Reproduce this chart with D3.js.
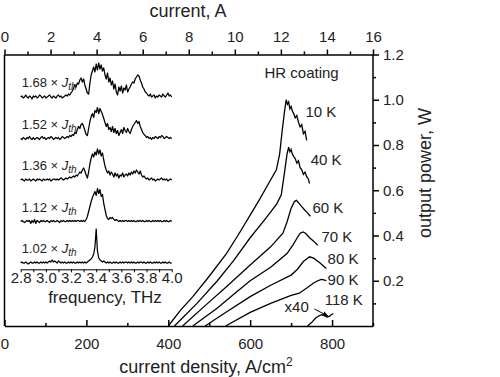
<!DOCTYPE html>
<html>
<head>
<meta charset="utf-8">
<script src="https://cdn.jsdelivr.net/npm/d3@7"></script>
<style>
  body { margin: 0; background: #fff; }
  svg { font-family: "Liberation Sans", Arial, sans-serif; }
  .axis path, .axis line { stroke: #000; stroke-width: 1.5px; }
  .axis text { font-size: 15px; fill: #222; font-family: "Liberation Sans", Arial, sans-serif; }
  .inset path, .inset line { stroke-width: 1px; }
  .lj { fill: none; stroke: #000; stroke-width: 1.3px; }
  .spec { fill: none; stroke: #000; stroke-width: 1.25px; stroke-linejoin: round; }
  .lbl { font-size: 15px; fill: #222; }
</style>
</head>
<body>
<svg id="chart" width="500" height="377"></svg>
<script>
// light-current curves: current density (A/cm2) -> output power (W)
const J10 = [400, 430, 460, 500, 542, 570, 600, 623, 645, 664, 672, 678, 684, 688, 691, 694, 697, 700, 703, 706, 710, 714, 718, 722, 726, 730, 734, 738];
const P10 = [0, 0.07, 0.13, 0.22, 0.32, 0.40, 0.49, 0.56, 0.63, 0.69, 0.76, 0.86, 0.95, 1.00, 0.98, 0.99, 0.96, 0.97, 0.95, 0.94, 0.92, 0.93, 0.90, 0.88, 0.89, 0.85, 0.86, 0.82];
const J40 = [415, 470, 520, 560, 600, 640, 665, 676, 684, 690, 694, 697, 700, 703, 706, 710, 714, 718, 722, 726, 730, 734, 738, 742, 745];
const P40 = [0, 0.10, 0.20, 0.29, 0.39, 0.48, 0.54, 0.58, 0.68, 0.76, 0.79, 0.77, 0.78, 0.76, 0.75, 0.74, 0.72, 0.73, 0.70, 0.69, 0.67, 0.68, 0.66, 0.65, 0.63];
const J60 = [435, 490, 540, 600, 650, 680, 690, 700, 708, 713, 718, 725, 732, 740, 747];
const P60 = [0, 0.09, 0.17, 0.27, 0.35, 0.41, 0.46, 0.52, 0.55, 0.555, 0.545, 0.53, 0.515, 0.50, 0.485];
const J70 = [460, 520, 560, 600, 650, 690, 705, 715, 722, 729, 735, 745, 755, 765];
const P70 = [0, 0.08, 0.14, 0.20, 0.26, 0.32, 0.36, 0.39, 0.41, 0.416, 0.41, 0.39, 0.375, 0.357];
const J80 = [490, 540, 600, 650, 700, 715, 730, 745, 755, 770, 786];
const P80 = [0, 0.06, 0.13, 0.18, 0.225, 0.25, 0.285, 0.306, 0.30, 0.28, 0.254];
const J90 = [540, 600, 650, 700, 720, 740, 755, 765, 774, 780, 786];
const P90 = [0, 0.06, 0.10, 0.135, 0.145, 0.17, 0.19, 0.20, 0.206, 0.204, 0.20];
const J118 = [740, 750, 760, 768, 775, 782, 788, 793, 798, 803];
const P118 = [0, 0.015, 0.035, 0.045, 0.05, 0.045, 0.04, 0.042, 0.05, 0.055]; // x40

const curves = [[J10, P10], [J40, P40], [J60, P60], [J70, P70], [J80, P80], [J90, P90], [J118, P118]];
const tempNames = ["10 K", "40 K", "60 K", "70 K", "80 K", "90 K", "118 K"];

// inset spectra, 2.80 .. 4.00 THz in 0.01 steps, arbitrary units
const specStart = 2.8, specStep = 0.01;
const spec168 = [0, 1, -1, 0, 2, 0, -1, 1, 0, -2,
  1, 0, 1, -1, 0, 2, 1, -1, 0, 1,
  -1, 0, 1, 2, 0, -1, 1, 0, -1, 1,
  2, 0, 1, -1, 0, 1, 2, 1, 3, 2,
  4, 6, 9, 12, 10, 14, 13, 17, 19, 15,
  18, 12, 8, 4, 3, 14, 22, 26, 30, 25,
  33, 27, 34, 28, 32, 26, 29, 22, 18, 24,
  15, 19, 12, 16, 8, 13, 5, 2, 10, 6,
  11, 4, 9, 7, 12, 5, 8, 10, 13, 15,
  14, 18, 20, 22, 21, 17, 14, 10, 8, 5,
  4, 2, 1, 3, 0, 1, 2, -1, 1, 0,
  2, 1, 0, 3, 1, 0, 2, 4, 1, 2, 0];
const spec152 = [0, -1, 1, 0, -1, 1, 0, 2, 0, -1,
  1, -1, 0, 1, 0, -1, 1, 2, 0, 1,
  -1, 0, 1, 0, 2, 1, -1, 0, 1, 0,
  1, -1, 0, 2, 1, 0, 1, 2, 1, 3,
  2, 4, 3, 6, 5, 9, 12, 10, 14, 15,
  12, 8, 4, 3, 10, 17, 22, 25, 21, 28,
  26, 31, 25, 30, 27, 24, 20, 16, 12, 15,
  9, 11, 7, 12, 6, 10, 5, 8, 3, 6,
  9, 5, 11, 8, 6, 10, 7, 5, 9, 12,
  14, 16, 18, 15, 17, 12, 9, 6, 4, 3,
  1, 2, 0, 1, -1, 1, 0, 2, 1, 0,
  2, 1, 3, 2, 0, 1, 2, 1, 0, 1, 0];
const spec136 = [0, 1, 0, -1, 1, 0, 0, 1, -1, 0,
  1, 0, -1, 1, 0, 1, 0, -1, 1, 0,
  0, 1, 0, 1, -1, 0, 1, 1, 0, 1,
  0, 1, 2, 1, 0, 1, 2, 1, 2, 3,
  2, 3, 4, 3, 5, 4, 6, 8, 7, 10,
  12, 9, 5, 2, 8, 16, 22, 26, 23, 28,
  25, 31, 26, 30, 24, 27, 20, 14, 10, 7,
  9, 5, 8, 6, 3, 7, 4, 6, 2, 5,
  4, 7, 3, 5, 6, 4, 7, 5, 8, 6,
  9, 7, 10, 8, 6, 9, 5, 3, 4, 2,
  1, 2, 0, 1, 2, 0, 1, -1, 0, 1,
  0, 1, 2, 0, 1, 0, 1, -1, 0, 1, 0];
const spec112 = [0, 1, 0, -1, 0, 1, 0, 1, -2, 1,
  -1, 2, -2, 1, 0, -1, 1, 0, 1, 0,
  0, 1, 0, -1, 1, 0, 1, 0, 0, 1,
  0, -1, 1, 0, 1, 0, 0, 1, 0, 1,
  0, 1, 0, 1, 0, 1, 1, 0, 1, 0,
  1, 0, 2, 5, 10, 15, 20, 24, 27, 30,
  26, 33, 28, 32, 25, 27, 18, 12, 6, 3,
  2, 4, 3, 4, 2, 1, 2, 1, 0, 1,
  0, 1, 0, 1, 1, 0, 1, 0, 1, 0,
  1, 0, 0, 1, 0, 1, 0, 1, 0, 0,
  1, 0, 1, 0, 0, 1, 0, 1, 0, 1,
  0, 1, 0, 0, 1, 0, 1, 0, 0, 1, 0];
const spec102 = [0, 1, 0, 0, 1, 0, -1, 0, 1, 0,
  0, 1, 0, 1, 0, 0, 1, 0, 1, 0,
  1, 0, 1, 2, 1, 3, 1, 2, 1, 0,
  2, 1, 0, 1, 0, 1, 0, 0, 1, 0,
  1, 0, 1, 0, 0, 1, 0, 1, 0, 1,
  0, 1, 0, 1, 2, 3, 4, 6, 9, 16,
  34, 12, 5, 3, 2, 1, 2, 1, 0, 1,
  0, 1, 0, 0, 1, 0, 1, 0, 0, 1,
  0, 1, 0, 1, 1, 0, 1, 0, 1, 0,
  1, 0, 0, 1, 0, 1, 1, 0, 1, 0,
  0, 1, 0, 1, 0, 0, 1, 0, 1, 0,
  1, 0, 0, 1, 0, 1, 0, 0, 1, 0, 0];

const spectra = [spec102, spec112, spec136, spec152, spec168];
const specFactors = ["1.02", "1.12", "1.36", "1.52", "1.68"];
const specOffsets = [0, 41.5, 83, 124.5, 166];

// ---- layout ----
const L = 4.5, R = 373, T = 54.5, B = 326;
const svg = d3.select("#chart");

const x = d3.scaleLinear().domain([0, 900]).range([L, R]);
const xTop = d3.scaleLinear().domain([0, 16]).range([L, R]);
const y = d3.scaleLinear().domain([0, 1.2]).range([B, T]);

// inset scales
const fx = d3.scaleLinear().domain([2.8, 4.0]).range([20.7, 171.7]);
const sy = d3.scaleLinear().domain([0, 166]).range([263, 97]);

// left frame line
svg.append("line").attr("x1", L).attr("x2", L).attr("y1", T).attr("y2", B)
  .attr("stroke", "#000").attr("stroke-width", 1.5);

// bottom axis, ticks inward
const gb = svg.append("g").attr("class", "axis").attr("transform", `translate(0,${B})`)
  .call(d3.axisBottom(x).tickValues(d3.range(0, 901, 100))
    .tickFormat(d => d % 200 ? "" : d).tickSize(-6).tickSizeOuter(0).tickPadding(12));
gb.selectAll(".tick line").attr("y2", d => d % 200 ? -3 : -6);

// top axis
const gt = svg.append("g").attr("class", "axis").attr("transform", `translate(0,${T})`)
  .call(d3.axisTop(xTop).tickValues(d3.range(0, 17))
    .tickFormat(d => d % 2 ? "" : d).tickSize(5).tickSizeOuter(0).tickPadding(8));
gt.selectAll(".tick line").attr("y2", d => d % 2 ? -3 : -5);

// right axis
const rTicks = d3.range(1, 13).map(i => i / 10);
const gr = svg.append("g").attr("class", "axis").attr("transform", `translate(${R},0)`)
  .call(d3.axisRight(y).tickValues(rTicks)
    .tickFormat(d => Math.round(d * 10) % 2 ? "" : d.toFixed(1)).tickSize(6).tickSizeOuter(0).tickPadding(4));
gr.selectAll(".tick line").attr("x2", d => Math.round(d * 10) % 2 ? 3 : 6);
gr.select(".domain").attr("d", `M0,${B}V${T}`);

// axis titles
svg.append("text").attr("x", 188).attr("y", 17).attr("text-anchor", "middle")
  .attr("font-size", 18).attr("fill", "#222").text("current, A");
const bt = svg.append("text").attr("x", 206).attr("y", 373).attr("text-anchor", "middle")
  .attr("font-size", 18).attr("fill", "#222");
bt.append("tspan").text("current density, A/cm");
bt.append("tspan").attr("font-size", 12).attr("dy", -7).text("2");
svg.append("text").attr("transform", "translate(431,173) rotate(-90)").attr("text-anchor", "middle")
  .attr("font-size", 18).attr("fill", "#222").text("output power, W");

// L-J curves
const lj = d3.line().x(d => x(d[0])).y(d => y(d[1]));
svg.append("g").selectAll("path").data(curves).join("path")
  .attr("class", "lj")
  .attr("d", c => lj(c[0].map((j, i) => [j, c[1][i]])));

// temperature labels
const tempPos = [[735, 0.922], [748, 0.71], [752, 0.498], [774, 0.37], [789, 0.273], [789, 0.18], [782, 0.093]];
svg.append("g").selectAll("text").data(tempNames).join("text")
  .attr("class", "lbl")
  .attr("x", (d, i) => x(tempPos[i][0])).attr("y", (d, i) => y(tempPos[i][1]))
  .text(d => d);

svg.append("text").attr("class", "lbl").attr("font-size", 16)
  .attr("x", x(635)).attr("y", y(1.094)).text("HR coating");
svg.append("text").attr("class", "lbl").attr("x", x(684)).attr("y", y(0.064)).text("x40");

// x40 arrow
svg.append("defs").append("marker").attr("id", "ah")
  .attr("viewBox", "0 0 10 10").attr("refX", 9).attr("refY", 5)
  .attr("markerWidth", 6).attr("markerHeight", 6).attr("orient", "auto")
  .append("path").attr("d", "M0,1L10,5L0,9Z").attr("fill", "#000");
svg.append("line").attr("x1", x(757)).attr("y1", y(0.075)).attr("x2", x(790)).attr("y2", y(0.044))
  .attr("stroke", "#000").attr("stroke-width", 1).attr("marker-end", "url(#ah)");

// ---- inset ----
const gi = svg.append("g").attr("class", "axis inset").attr("transform", "translate(0,269.3)")
  .call(d3.axisBottom(fx).tickValues(d3.range(0, 13).map(i => 2.8 + i / 10))
    .tickFormat((d, i) => i % 2 ? "" : d.toFixed(1)).tickSize(3).tickSizeOuter(0).tickPadding(0));

svg.append("text").attr("x", 105).attr("y", 303).attr("text-anchor", "middle")
  .attr("font-size", 17).attr("fill", "#222").text("frequency, THz");

const sl = d3.line().x((d, i) => fx(specStart + i * specStep));
svg.append("g").selectAll("path").data(spectra).join("path")
  .attr("class", "spec")
  .attr("d", (s, k) => sl.y(v => sy(v + specOffsets[k]))(s));

const sLab = svg.append("g").selectAll("text").data(specFactors).join("text")
  .attr("x", fx(2.8) + 1).attr("y", (d, k) => sy(specOffsets[k]) - 10)
  .attr("font-size", 13).attr("fill", "#222");
sLab.append("tspan").text(d => d + " \u00d7 ");
sLab.append("tspan").attr("font-style", "italic").text("J");
sLab.append("tspan").attr("font-style", "italic").attr("font-size", 10).attr("dy", 3).text("th");
</script>
</body>
</html>
